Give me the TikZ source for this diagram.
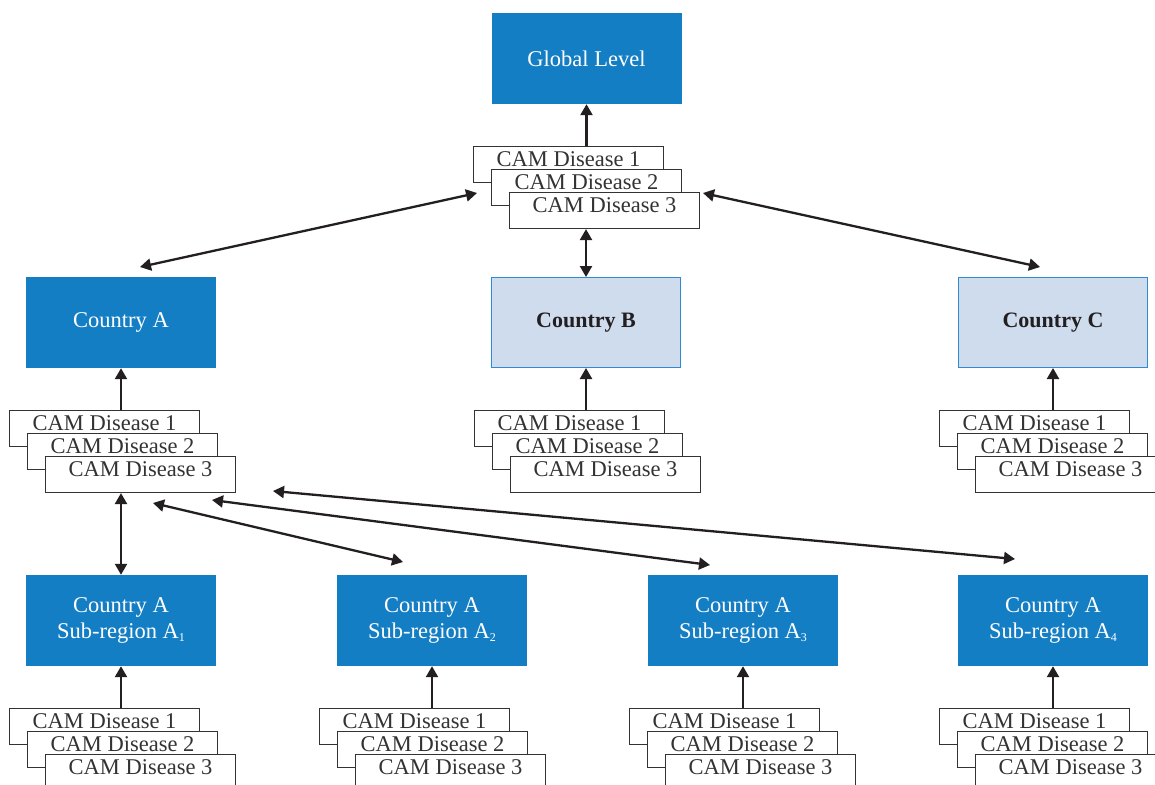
\documentclass[tikz,border=0pt]{standalone}
\usepackage{fontspec}
\setmainfont{Liberation Serif}
\usetikzlibrary{arrows.meta,calc}
\definecolor{dblue}{HTML}{147EC4}
\definecolor{lblue}{HTML}{CFDCEE}
\definecolor{lborder}{HTML}{2E8BD2}
\definecolor{ink}{HTML}{231F20}
\definecolor{boxline}{HTML}{333333}
\tikzset{
  dark/.style={rectangle,fill=dblue,draw=none,minimum width=190pt,minimum height=91pt,
    text=white,font=\fontsize{22.5}{26}\selectfont,align=center,inner sep=0pt},
  light/.style={rectangle,fill=lblue,draw=lborder,line width=1pt,minimum width=189pt,minimum height=90pt,
    text=ink,font=\fontsize{22}{26}\selectfont\bfseries,align=center,inner sep=0pt},
  dbox/.style={rectangle,draw=boxline,fill=white,line width=1.1pt,minimum width=190pt,
    minimum height=36pt,anchor=north west,inner sep=0pt},
  dtext/.style={font=\fontsize{22.5}{23}\selectfont,text=boxline,inner sep=0pt},
  arr/.style={draw=ink,line width=2.3pt,-{Triangle[length=11pt,width=12pt]}},
  darr/.style={draw=ink,line width=2.3pt,{Triangle[length=11pt,width=12pt]}-{Triangle[length=11pt,width=12pt]}},
}
\newcommand{\camstack}[3]{%
  \node[dbox] (stk#1x) at (#2,#3) {};
  \node[dtext] (stk#1xt) at ($(stk#1x.north)+(0,13.5)$) {CAM Disease 1};
  \node[dbox] (stk#1y) at (#2+18,#3+23) {};
  \node[dtext] (stk#1yt) at ($(stk#1y.north)+(0,13.5)$) {CAM Disease 2};
  \node[dbox] (stk#1z) at (#2+36,#3+46) {};
  \node[dtext] (stk#1zt) at ($(stk#1z.north)+(0,13.5)$) {CAM Disease 3};
}
\newcommand{\subsc}[1]{\raisebox{-3pt}{\fontsize{12}{12}\selectfont #1}}
\begin{document}
\begin{tikzpicture}[x=1pt,y=-1pt]
\useasboundingbox (0,0) rectangle (1155,784);
\clip (0,0) rectangle (1155,784);
\fill[white] (0,0) rectangle (1155,784);

% main boxes
\node[dark] (glob) at (586.5,58.5) {Global Level};
\node[dark] (ctyA) at (121,322.5) {Country A};
\node[light] (ctyB) at (586,322.5) {Country B};
\node[light] (ctyC) at (1053,322.5) {Country C};
\node[dark] (sub1) at (121,620.5) {Country A\\Sub-region A\subsc{1}};
\node[dark] (sub2) at (432,620.5) {Country A\\Sub-region A\subsc{2}};
\node[dark] (sub3) at (743,620.5) {Country A\\Sub-region A\subsc{3}};
\node[dark] (sub4) at (1053,620.5) {Country A\\Sub-region A\subsc{4}};

% disease stacks
\camstack{T}{473}{146}
\camstack{A}{9}{410}
\camstack{B}{474}{410}
\camstack{C}{939}{410}
\camstack{P}{9}{708}
\camstack{Q}{319}{708}
\camstack{R}{629}{708}
\camstack{S}{939}{708}

% vertical connectors
\draw[arr] (glob.south |- stkTx.north) -- (glob.south);
\draw[darr] (ctyB.north |- stkTz.south) -- (ctyB.north);
\draw[arr] (ctyA.south |- stkAx.north) -- (ctyA.south);
\draw[arr] (ctyB.south |- stkBx.north) -- (ctyB.south);
\draw[arr] (ctyC.south |- stkCx.north) -- (ctyC.south);
\draw[darr] (sub1.north |- stkAz.south) -- (sub1.north);
\draw[arr] (sub1.south |- stkPx.north) -- (sub1.south);
\draw[arr] (sub2.south |- stkQx.north) -- (sub2.south);
\draw[arr] (sub3.south |- stkRx.north) -- (sub3.south);
\draw[arr] (sub4.south |- stkSx.north) -- (sub4.south);

% diagonal connectors
\coordinate (tl) at (477,193);
\coordinate (tr) at (703,193);
\coordinate (al) at (140,267);
\coordinate (cr) at (1040,267);
\coordinate (x1) at (153,503);
\coordinate (y1) at (403,562);
\coordinate (x2) at (212,500);
\coordinate (y2) at (710,565);
\coordinate (x3) at (273,491);
\coordinate (y3) at (1015,559);
\draw[darr] (al) -- (tl);
\draw[darr] (tr) -- (cr);
\draw[darr] (x1) -- (y1);
\draw[darr] (x2) -- (y2);
\draw[darr] (x3) -- (y3);
\end{tikzpicture}
\end{document}
